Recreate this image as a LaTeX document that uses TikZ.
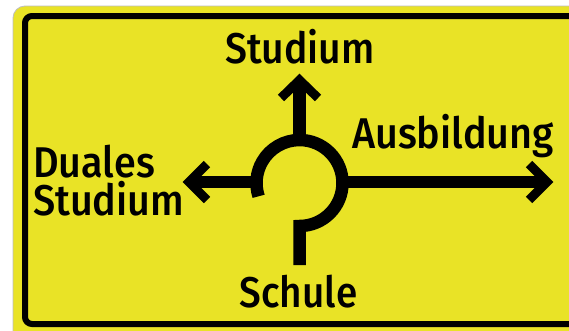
\documentclass[tikz,border=0pt]{standalone}
\usepackage{fontspec}
\setmainfont{Fira Sans}[UprightFont=* Medium, BoldFont=* SemiBold]
\definecolor{signyellow}{RGB}{233,227,38}
\definecolor{rimgray}{RGB}{190,190,190}
\begin{document}
\begin{tikzpicture}[x=1pt,y=-1pt,
  road/.style={line width=12.5pt},
  head/.style={line width=9pt, miter limit=10},
  lbl/.style={font=\fontsize{43}{38}\selectfont, inner sep=0pt}]
\useasboundingbox (0,0) rectangle (569,330);
\begin{scope}
\clip (0,0) rectangle (569,330);
\fill[white] (0,0) rectangle (569,330);
\filldraw[fill=signyellow, draw=rimgray, line width=0.8pt, rounded corners=12pt] (13,6) rectangle (600,345);
\draw[line width=6pt, rounded corners=7pt] (25,16) rectangle (580,324);
\end{scope}
% roundabout
\coordinate (c) at (299.5,183);
\coordinate (sb) at (299.5,265);
\draw[road] (sb) -- (299.5,226) arc[start angle=90, end angle=-198, radius=43];
% up
\coordinate (ut) at (299.5,80);
\draw[road] (299.5,140) -- (ut);
\draw[head] (281,98) -- (ut) -- (318,98);
% left
\coordinate (lt) at (189,182);
\draw[road] (254,182) -- (lt);
\draw[head] (207,164) -- (lt) -- (207,200);
% right
\coordinate (rt) at (547,182);
\draw[road] (344,182) -- (rt);
\draw[head] (529,164) -- (rt) -- (529,200);
% labels
\node[lbl, anchor=base, xscale=0.91] (studium) at (300,63) {Studium};
\node[lbl, anchor=base west, xscale=0.92] (ausb) at (352,148) {Ausbildung};
\node[lbl, anchor=base, xscale=0.9] (schule) at (298.5,307) {Schule};
\node[lbl, anchor=base west, xscale=0.92, align=left] (dual) at (33,215) {Duales\\Studium};
\end{tikzpicture}
\end{document}
